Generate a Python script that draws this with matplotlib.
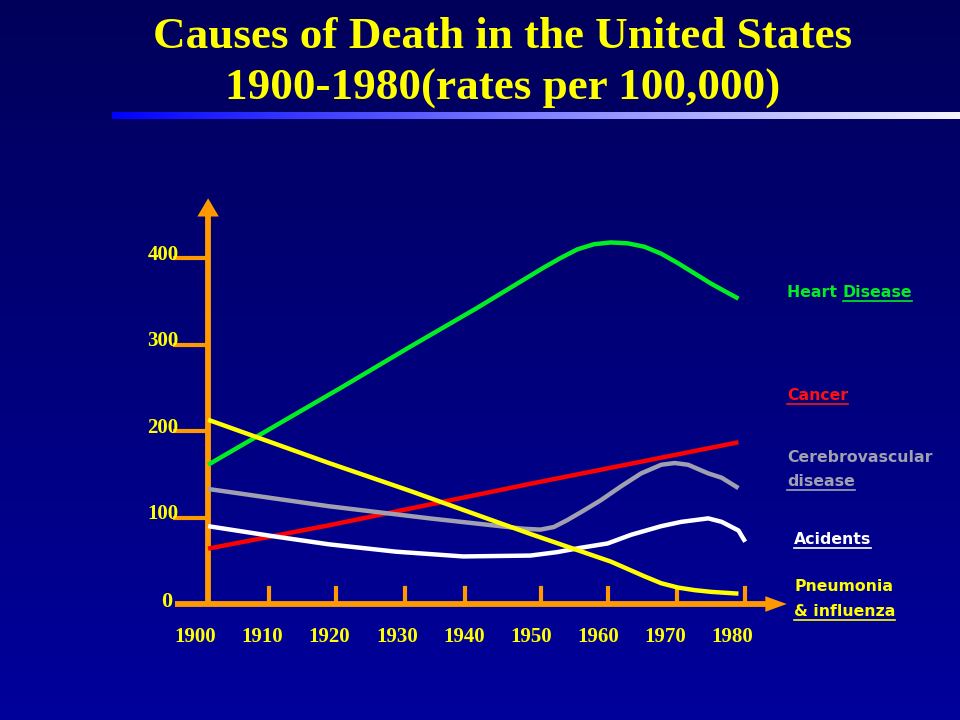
import numpy as np
import matplotlib
matplotlib.use("Agg")
import matplotlib.pyplot as plt
from matplotlib.lines import Line2D
from matplotlib.colors import LinearSegmentedColormap

# --- data (rates per 100,000) ---
heart_years = [1900, 1910, 1920, 1930, 1940, 1950, 1952.5, 1955, 1957.5, 1960,
               1962.5, 1965, 1967.5, 1970, 1972.5, 1975, 1979]
heart_vals = [161, 206, 251, 297, 342, 389, 400, 410, 416, 418,
              417, 413, 405, 394, 382, 370, 353]

cancer_years = [1900, 1918, 1948, 1979]
cancer_vals = [64, 91, 139, 187]

cerebro_years = [1900, 1918, 1933, 1947, 1949.5, 1951.5, 1953.5, 1955.5, 1958.5, 1961.5,
                 1964.5, 1967.5, 1969.5, 1971.5, 1974.5, 1976.5, 1979]
cerebro_vals = [133, 113, 99, 87, 86, 89, 97, 106, 120, 136,
                151, 161, 163, 161, 151, 146, 134]

accident_years = [1900, 1910, 1918, 1928, 1938, 1948, 1952, 1955.5, 1959.5, 1963,
                  1967.5, 1970.5, 1974.5, 1976.5, 1979, 1980]
accident_vals = [90, 78, 69, 60.5, 55, 56, 60, 65, 70, 80,
                 90, 95, 99, 95, 85, 72]

pneumonia_years = [1900, 1918, 1930, 1948, 1960, 1965, 1967.5, 1970, 1972.5, 1975, 1979]
pneumonia_vals = [213, 163, 131, 81, 49, 32, 24, 19, 16, 14, 12]

decades = [1900, 1910, 1920, 1930, 1940, 1950, 1960, 1970, 1980]
tick_marks = [1909, 1919, 1929.3, 1938.3, 1949.6, 1959.6, 1969.9, 1980]
y_ticks = [100, 200, 300, 400]

orange = "#ff9900"
yellow = "#ffff00"

fig = plt.figure(figsize=(9.6, 7.2), dpi=100)

# background gradient
bg = fig.add_axes([0, 0, 1, 1])
bg_cmap = LinearSegmentedColormap.from_list("bg", ["#00005a", "#00009c"])
bg.imshow(np.linspace(0, 1, 256).reshape(-1, 1), aspect="auto", cmap=bg_cmap,
          extent=[0, 1, 0, 1])
bg.set_axis_off()

# bar under the title
bar = fig.add_axes([112 / 960, 1 - 119 / 720, 848 / 960, 7 / 720])
bar_cmap = LinearSegmentedColormap.from_list("bar", ["#0000ff", "#8080ff", "#f4f4ff"])
bar.imshow(np.linspace(0, 1, 256).reshape(1, -1), aspect="auto", cmap=bar_cmap)
bar.set_axis_off()

# chart axes covering the figure; 1900 sits on the y axis, 0 on the x axis
ax = fig.add_axes([0, 0, 1, 1])
ax.set_xlim(1869.0, 2012.0)
ax.set_ylim(-134.1, 698.3)
ax.set_axis_off()
ax.patch.set_alpha(0)

# curves
curve_kw = dict(lw=3.2, solid_capstyle="butt", solid_joinstyle="round", zorder=3)
ax.plot(heart_years, heart_vals, color="#00ee22", **curve_kw)
ax.plot(cancer_years, cancer_vals, color="#ff0000", **curve_kw)
ax.plot(cerebro_years, cerebro_vals, color="#a0a0b0", **curve_kw)
ax.plot(accident_years, accident_vals, color="#ffffff", **curve_kw)
ax.plot(pneumonia_years, pneumonia_vals, color="#ffff00", **curve_kw)

# hand-drawn style axes
ax.plot([1900, 1900], [0, 452], color=orange, lw=4.2, zorder=2, solid_capstyle="butt")
ax.fill([1898.4, 1901.6, 1900], [448, 448, 469], color=orange, zorder=2, lw=0)
ax.plot([1895.1, 1983.5], [0, 0], color=orange, lw=4.2, zorder=2, solid_capstyle="butt")
ax.fill([1983, 1983, 1986.2], [-9, 9, 0], color=orange, zorder=2, lw=0)

num_kw = dict(color=yellow, fontweight="bold", family="Liberation Serif", va="center")
for yv in y_ticks:
    ax.plot([1895.1, 1900], [yv, yv], color=orange, lw=3, zorder=2)
    ax.text(1895.6, yv + 4, str(yv), fontsize=15, ha="right", zorder=4, **num_kw)
ax.text(1894.7, 2, "0", fontsize=16, ha="right", **num_kw)

for xv in tick_marks:
    ax.plot([xv, xv], [0, 19], color=orange, lw=3, zorder=2)

for d in decades:
    ax.text(d - 1.9, -38, str(d), fontsize=15, ha="center", **num_kw)

# title
title_kw = dict(color=yellow, fontsize=32.5, fontweight="bold", family="Liberation Serif",
                ha="center", va="center")
fig.text(503 / 960, 1 - 37 / 720, "Causes of Death in the United States", **title_kw)
fig.text(503 / 960, 1 - 89 / 720, "1900-1980(rates per 100,000)", **title_kw)

# labels on the right, some words underlined
lab_kw = dict(fontsize=11.3, fontweight="bold", family="DejaVu Sans", va="baseline")
labels = [
    # (x px, baseline px, text, colour, underline?)
    (787, 297, "Heart ", "#00ee22", False),
    (None, 297, "Disease", "#00ee22", True),
    (787, 400, "Cancer", "#ff1111", True),
    (787, 462, "Cerebrovascular", "#a0a0b0", False),
    (787, 486, "disease", "#a0a0b0", True),
    (794, 544, "Acidents", "#ffffff", True),
    (794, 591, "Pneumonia", yellow, False),
    (794, 616, "& influenza", yellow, True),
]

fig.canvas.draw()
renderer = fig.canvas.get_renderer()
prev_end = None
for x, y, txt, col, under in labels:
    if x is None:
        x = prev_end
    t = fig.text(x / 960, 1 - y / 720, txt, color=col, **lab_kw)
    bb = t.get_window_extent(renderer)
    prev_end = bb.x1
    if under:
        uy = 1 - (y + 4) / 720
        fig.add_artist(Line2D([bb.x0 / 960, bb.x1 / 960], [uy, uy], color=col, lw=1.2))

fig.savefig("out.png", dpi=100)
